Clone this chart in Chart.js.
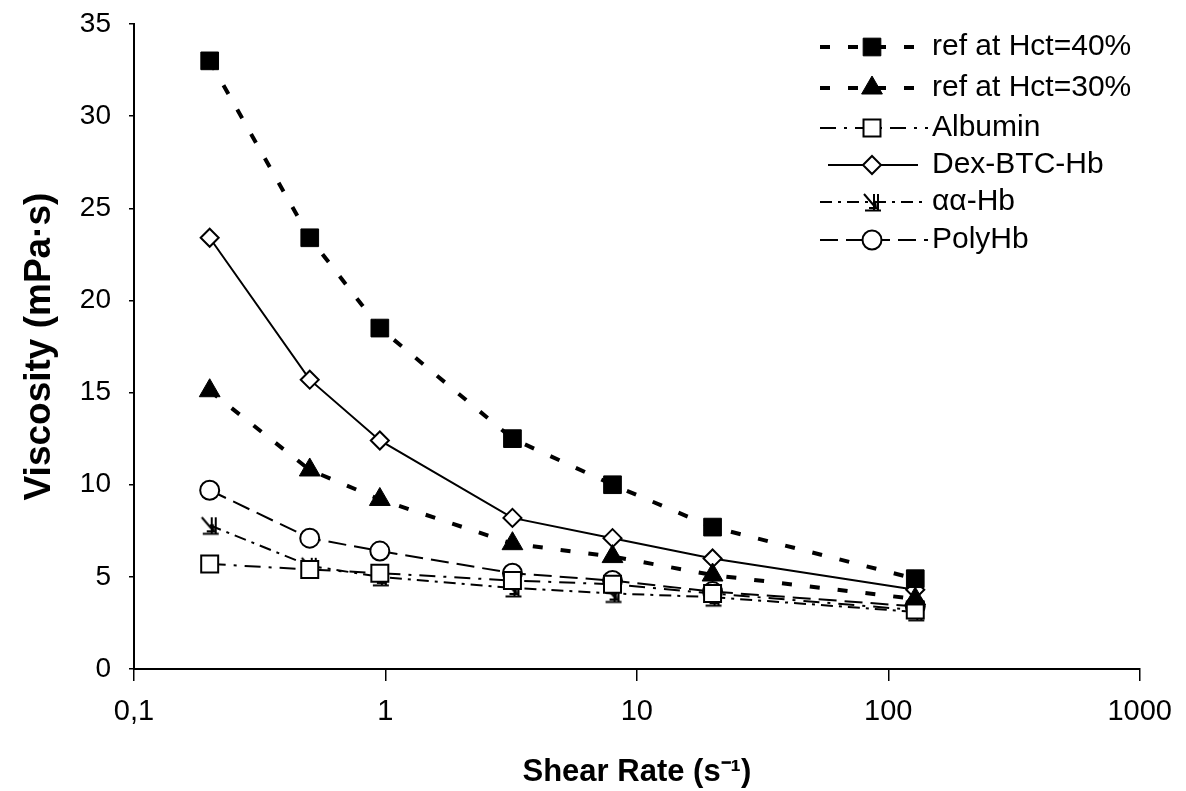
<!DOCTYPE html>
<html>
<head>
<meta charset="utf-8">
<script src="https://cdn.jsdelivr.net/npm/chart.js@4/dist/chart.umd.min.js"></script>
<style>
  html, body { margin: 0; padding: 0; background: #fff; }
  #wrap { width: 1186px; height: 791px; }
</style>
</head>
<body>
<div id="wrap"><canvas id="chart" width="1186" height="791"></canvas></div>
<script>
// DATA
const shearRates = [0.2, 0.5, 0.95, 3.2, 8, 20, 128];
const ref40   = [33.0, 23.4, 18.5, 12.5, 10.0, 7.7, 4.9];
const ref30   = [15.1, 10.8, 9.2, 6.8, 6.1, 5.1, 3.8];
const albumin = [5.7, 5.4, 5.2, 4.8, 4.6, 4.1, 3.2];
const dexBtc  = [23.4, 15.7, 12.4, 8.2, 7.1, 6.0, 4.3];
const aaHb    = [7.8, 5.6, 5.0, 4.4, 4.1, 3.9, 3.1];
const polyHb  = [9.7, 7.1, 6.4, 5.2, 4.8, 4.2, 3.4];
const xTicks  = [0.1, 1, 10, 100, 1000];

const FONT = '"Liberation Sans", Arial, Helvetica, sans-serif';

function pts(vals) {
    return shearRates.map((x, i) => ({ x: x, y: vals[i] }));
}

// custom marker for the αα-Hb series
function arrowMarker() {
    const c = document.createElement('canvas');
    c.width = 22; c.height = 22;
    const g = c.getContext('2d');
    g.strokeStyle = '#000';
    g.lineWidth = 2;
    g.beginPath();
    g.moveTo(3, 3); g.lineTo(15, 17);
    g.moveTo(8, 17); g.lineTo(15, 17); g.lineTo(14, 10);
    g.moveTo(13, 3); g.lineTo(13, 19);
    g.moveTo(17, 3); g.lineTo(17, 19);
    g.moveTo(4, 19.5); g.lineTo(20, 19.5);
    g.stroke();
    return c;
}

const datasets = [
    { label: 'ref at Hct=40%', data: pts(ref40), borderDash: [10, 18], borderWidth: 4,
      pointStyle: 'rect', pointRadius: 12.5, pointBackgroundColor: '#000', pointBorderWidth: 1 },
    { label: 'ref at Hct=30%', data: pts(ref30), borderDash: [10, 18], borderWidth: 4,
      pointStyle: 'triangle', pointRadius: 12, pointBackgroundColor: '#000', pointBorderWidth: 1 },
    { label: 'Albumin', data: pts(albumin), borderDash: [16, 8, 3, 8], borderWidth: 2,
      pointStyle: 'rect', pointRadius: 12, pointBackgroundColor: '#fff', pointBorderWidth: 2 },
    { label: 'Dex-BTC-Hb', data: pts(dexBtc), borderDash: [], borderWidth: 2,
      pointStyle: 'rectRot', pointRadius: 9, pointBackgroundColor: '#fff', pointBorderWidth: 2 },
    { label: 'αα-Hb', data: pts(aaHb), borderDash: [12, 6, 3, 6], borderWidth: 2,
      pointStyle: arrowMarker(), pointRadius: 11, pointBackgroundColor: '#fff', pointBorderWidth: 2 },
    { label: 'PolyHb', data: pts(polyHb), borderDash: [18, 8], borderWidth: 2,
      pointStyle: 'circle', pointRadius: 9.5, pointBackgroundColor: '#fff', pointBorderWidth: 2 }
];
datasets.forEach(d => {
    d.borderColor = '#000';
    d.pointBorderColor = '#000';
    d.tension = 0;
    d.fill = false;
});

function drawMarker(ctx, ds, x, y) {
    const r = ds.pointRadius;
    ctx.save();
    ctx.setLineDash([]);
    ctx.lineWidth = ds.pointBorderWidth;
    ctx.strokeStyle = '#000';
    ctx.fillStyle = ds.pointBackgroundColor;
    const st = ds.pointStyle;
    if (typeof st === 'object') {
        ctx.drawImage(st, x - st.width / 2, y - st.height / 2);
        ctx.restore();
        return;
    }
    ctx.beginPath();
    if (st === 'rect') {
        const s = r * Math.SQRT1_2;
        ctx.rect(x - s, y - s, 2 * s, 2 * s);
    } else if (st === 'rectRot') {
        ctx.moveTo(x - r, y); ctx.lineTo(x, y - r); ctx.lineTo(x + r, y); ctx.lineTo(x, y + r);
        ctx.closePath();
    } else if (st === 'triangle') {
        ctx.moveTo(x, y - r);
        ctx.lineTo(x + r * 0.866, y + r * 0.5);
        ctx.lineTo(x - r * 0.866, y + r * 0.5);
        ctx.closePath();
    } else {
        ctx.arc(x, y, r, 0, Math.PI * 2);
    }
    ctx.fill();
    ctx.stroke();
    ctx.restore();
}

// legend drawn in the top right corner, line sample + marker + text
const legendPlugin = {
    id: 'sampleLegend',
    afterDraw(chart) {
        const ctx = chart.ctx;
        const rows = [47, 88, 128, 165, 202, 240];
        ctx.save();
        datasets.forEach((ds, i) => {
            const y = rows[i];
            const x0 = ds.borderDash.length ? 820 : 828;
            const x1 = ds.borderDash.length ? 928 : 918;
            ctx.beginPath();
            ctx.setLineDash(ds.borderDash);
            ctx.lineWidth = ds.borderWidth;
            ctx.strokeStyle = '#000';
            ctx.moveTo(x0, y);
            ctx.lineTo(x1, y);
            ctx.stroke();
            drawMarker(ctx, ds, 872, y);
            ctx.setLineDash([]);
            ctx.fillStyle = '#000';
            ctx.font = '30px ' + FONT;
            ctx.textAlign = 'left';
            ctx.textBaseline = 'middle';
            ctx.fillText(ds.label, 932, y);
        });
        ctx.restore();
    }
};

new Chart(document.getElementById('chart'), {
    type: 'line',
    data: { datasets: datasets },
    options: {
        responsive: false,
        animation: false,
        layout: { padding: { top: 24, right: 44, left: 0, bottom: 0 } },
        plugins: { legend: { display: false }, tooltip: { enabled: false } },
        scales: {
            x: {
                type: 'logarithmic',
                min: 0.1,
                max: 1000,
                afterBuildTicks: s => { s.ticks = xTicks.map(v => ({ value: v })); },
                afterFit: s => { s.height = 122; },
                ticks: {
                    callback: v => String(v).replace('.', ','),
                    font: { family: FONT, size: 29 },
                    color: '#000',
                    maxRotation: 0,
                    autoSkip: false,
                    padding: 14
                },
                grid: { drawOnChartArea: false, color: '#000', tickLength: 12, lineWidth: 1.5 },
                border: { color: '#000', width: 2 },
                title: {
                    display: true,
                    text: 'Shear Rate (s⁻¹)',
                    font: { family: FONT, size: 31, weight: 'bold' },
                    color: '#000',
                    padding: { top: 0, bottom: 0 }
                }
            },
            y: {
                min: 0,
                max: 35,
                afterFit: s => { s.width = 134; s.paddingTop = 10; s.paddingBottom = 10; },
                ticks: {
                    stepSize: 5,
                    font: { family: FONT, size: 28 },
                    color: '#000',
                    padding: 18
                },
                grid: { drawOnChartArea: false, color: '#000', tickLength: 5, lineWidth: 1.5 },
                border: { color: '#000', width: 2 },
                title: {
                    display: true,
                    text: 'Viscosity (mPa·s)',
                    font: { family: FONT, size: 37, weight: 'bold' },
                    color: '#000',
                    padding: { top: 18, bottom: 0 }
                }
            }
        }
    },
    plugins: [legendPlugin]
});
</script>
</body>
</html>
